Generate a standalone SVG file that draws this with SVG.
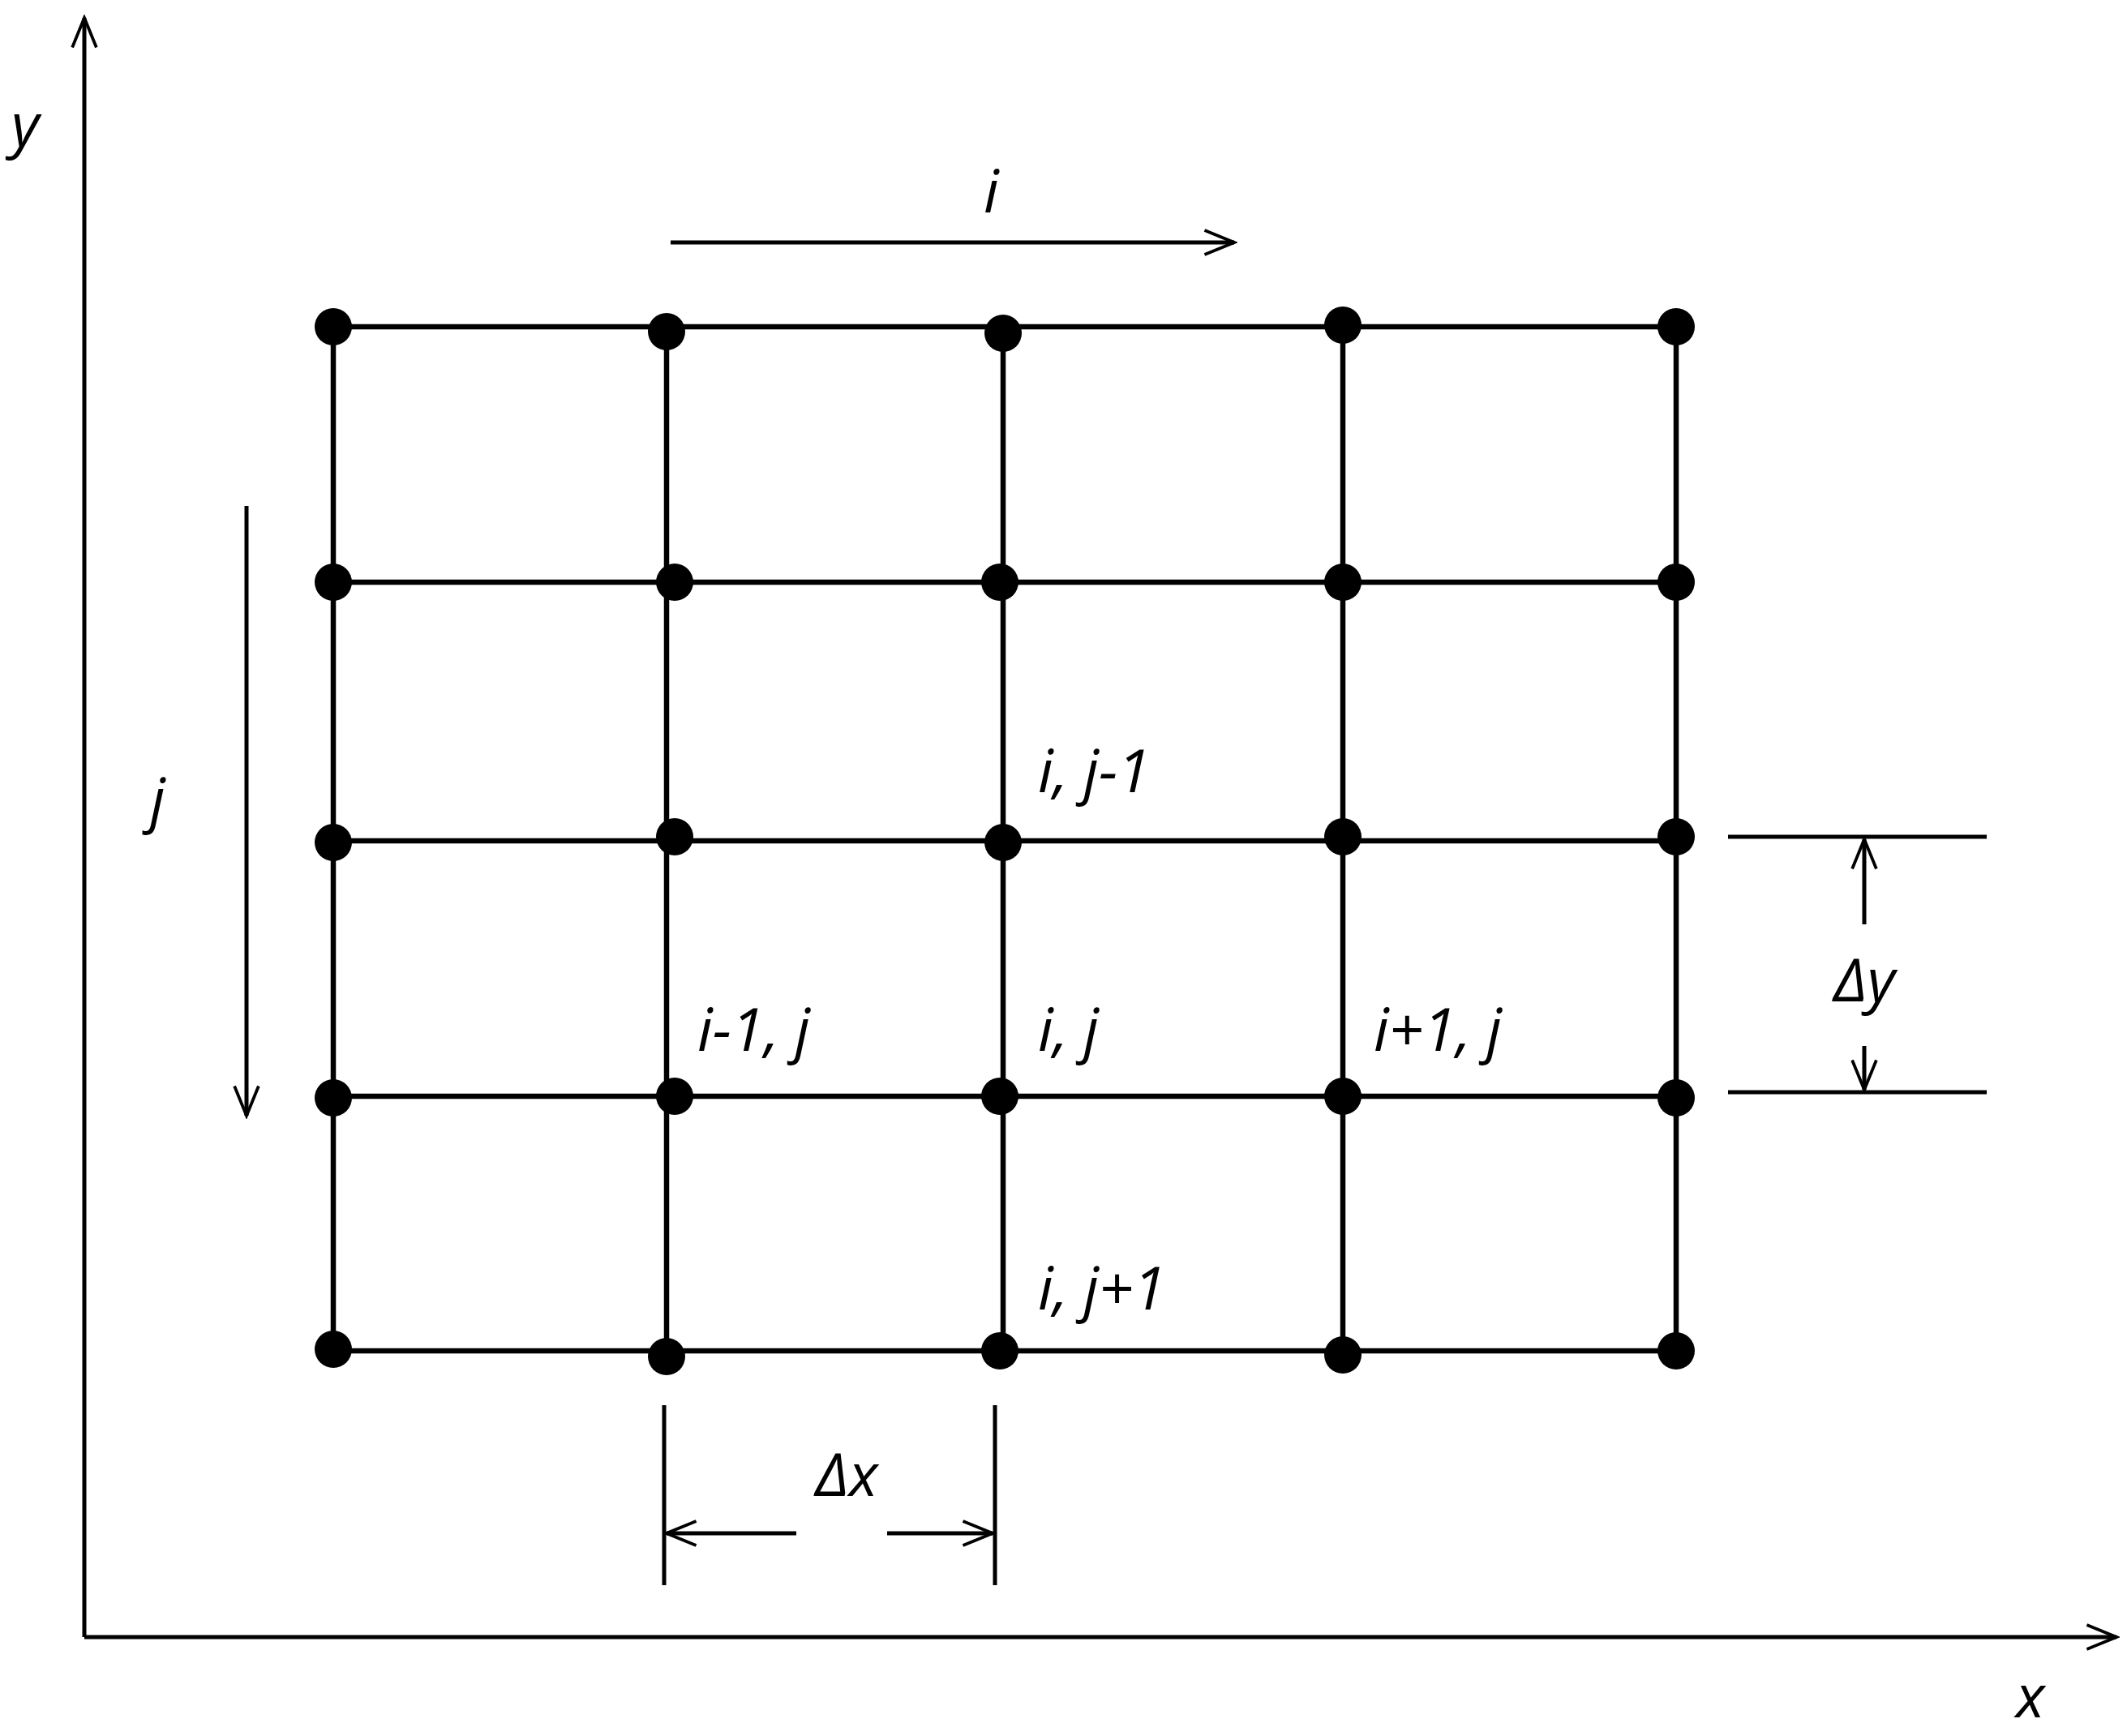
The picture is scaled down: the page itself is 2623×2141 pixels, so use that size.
<svg xmlns="http://www.w3.org/2000/svg" width="2623" height="2141" viewBox="0 0 2623 2141">
<style>
.l{stroke:#000;stroke-width:5;fill:none}
.g{stroke:#000;stroke-width:6.5;fill:none}
text{font-family:"Open Sans","Liberation Sans",sans-serif;font-style:italic;font-size:74px;fill:#000}
</style>
<defs>
<marker id="a" viewBox="-12 -4 34 28" refX="19" refY="10" markerWidth="46" markerHeight="38" markerUnits="userSpaceOnUse" orient="auto">
<path d="M-8,-1 L19,10 L-8,21" fill="none" stroke="#000" stroke-width="2.8"/>
</marker>
</defs>
<rect width="2623" height="2141" fill="#fff"/>
<g id="connectors">
<line class="l" x1="104" y1="2019" x2="104" y2="22" marker-end="url(#a)"/>
<line class="l" x1="104" y1="2019" x2="2610" y2="2019" marker-end="url(#a)"/>
<line class="l" x1="827" y1="299" x2="1522" y2="299" marker-end="url(#a)"/>
<line class="l" x1="304" y1="624" x2="304" y2="1376" marker-end="url(#a)"/>
<line class="l" x1="2131" y1="1032" x2="2450" y2="1032"/>
<line class="l" x1="2131" y1="1347" x2="2450" y2="1347"/>
<line class="l" x1="2299" y1="1140" x2="2299" y2="1035" marker-end="url(#a)"/>
<line class="l" x1="2299" y1="1290" x2="2299" y2="1344" marker-end="url(#a)"/>
<line class="l" x1="819" y1="1733" x2="819" y2="1955"/>
<line class="l" x1="1227" y1="1733" x2="1227" y2="1955"/>
<line class="l" x1="982" y1="1891" x2="822" y2="1891" marker-end="url(#a)"/>
<line class="l" x1="1094" y1="1891" x2="1224" y2="1891" marker-end="url(#a)"/>
</g>
<g id="grid" class="g">
<path d="M411,403H2067M411,718H2067M411,1037H2067M411,1352H2067M411,1666H2067M411,403V1666M822,403V1666M1237,403V1666M1656,403V1666M2067,403V1666"/>
</g>
<g id="nodes" fill="#000">
<circle cx="411" cy="403" r="23"/><circle cx="822" cy="409" r="23"/><circle cx="1237" cy="411" r="23"/><circle cx="1656" cy="401" r="23"/><circle cx="2067" cy="403" r="23"/>
<circle cx="411" cy="718" r="23"/><circle cx="832" cy="718" r="23"/><circle cx="1233" cy="718" r="23"/><circle cx="1656" cy="718" r="23"/><circle cx="2067" cy="718" r="23"/>
<circle cx="411" cy="1039" r="23"/><circle cx="832" cy="1032" r="23"/><circle cx="1237" cy="1039" r="23"/><circle cx="1656" cy="1032" r="23"/><circle cx="2067" cy="1032" r="23"/>
<circle cx="411" cy="1354" r="23"/><circle cx="832" cy="1352" r="23"/><circle cx="1233" cy="1352" r="23"/><circle cx="1656" cy="1352" r="23"/><circle cx="2067" cy="1354" r="23"/>
<circle cx="411" cy="1664" r="23"/><circle cx="822" cy="1673" r="23"/><circle cx="1233" cy="1666" r="23"/><circle cx="1656" cy="1671" r="23"/><circle cx="2067" cy="1666" r="23"/>
</g>
<g id="labels">
<text x="14" y="180">y</text>
<text x="2486" y="2118">x</text>
<text x="1213" y="262">i</text>
<text x="185" y="1012">j</text>
<text x="1280" y="977">i, j-1</text>
<text x="860" y="1296">i-1, j</text>
<text x="1280" y="1296">i, j</text>
<text x="1694" y="1296">i+1, j</text>
<text x="1280" y="1615">i, j+1</text>
<text x="2299" y="1235" text-anchor="middle">Δy</text>
<text x="1044" y="1845" text-anchor="middle">Δx</text>
</g>
</svg>
